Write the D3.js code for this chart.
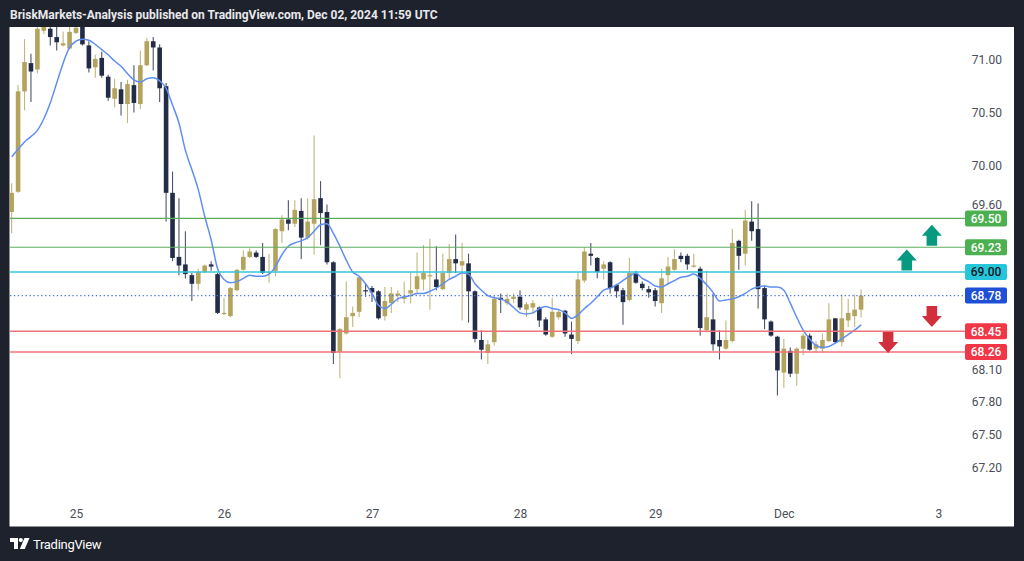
<!DOCTYPE html>
<html><head><meta charset="utf-8">
<script src="https://cdn.jsdelivr.net/npm/d3@7"></script>
<style>
html,body{margin:0;padding:0;background:#1e222d;}
svg{display:block;}
</style></head><body>
<svg id="chart" width="1024" height="561"></svg>
<script>
// ---- DATA (hourly candles, USOIL, Nov 25 – Dec 02 2024) ----
const opens = [69.56,69.75,70.70,70.97,70.91,71.28,71.30,71.22,71.14,71.11,71.26,71.33,71.14,70.93,71.02,70.84,70.63,70.72,70.58,70.76,
70.58,70.95,71.18,71.12,70.75,69.74,69.14,69.07,68.97,68.89,69.00,69.07,68.98,68.61,68.59,68.83,69.02,69.14,69.18,69.14,
68.99,69.01,69.38,69.49,69.45,69.57,69.32,69.45,69.69,69.56,69.09,68.26,68.43,68.59,68.63,68.83,68.85,68.82,68.59,68.71,
68.78,68.75,68.80,68.84,68.93,68.96,68.93,68.84,68.99,69.12,69.06,69.08,68.82,68.37,68.25,68.35,68.76,68.71,68.75,68.77,
68.65,68.67,68.67,68.56,68.40,68.58,68.64,68.42,68.36,68.92,69.17,69.13,69.03,69.09,68.88,68.83,68.74,68.98,68.89,68.84,
68.83,68.71,68.97,69.02,69.15,69.15,69.05,69.03,68.46,68.56,68.37,68.29,68.36,69.29,69.17,69.47,69.40,68.85,68.54,68.40,
68.07,68.27,68.06,68.29,68.41,68.29,68.29,68.36,68.57,68.35,68.55,68.59,68.65];
const highs = [69.83,70.76,71.20,71.06,71.35,71.38,71.36,71.33,71.27,71.33,71.36,71.38,71.18,71.05,71.08,70.86,70.82,70.79,70.81,70.95,
71.09,71.21,71.22,71.15,70.78,69.94,69.69,69.38,68.99,69.03,69.07,69.10,68.99,68.76,68.86,69.03,69.20,69.22,69.20,69.27,
69.17,69.41,69.53,69.67,69.67,69.69,69.69,70.28,69.85,69.63,69.10,68.48,68.91,68.68,68.96,68.89,68.87,68.83,68.86,68.86,
68.83,68.91,69.00,69.18,69.25,69.31,69.24,69.17,69.26,69.35,69.27,69.17,68.83,68.46,68.37,68.78,68.80,68.80,68.80,68.83,
68.72,68.74,68.68,68.58,68.76,68.65,68.65,68.54,69.00,69.23,69.27,69.14,69.10,69.10,68.89,68.85,69.13,69.01,68.91,68.87,
68.85,69.03,69.14,69.21,69.18,69.17,69.17,69.05,69.01,68.80,68.46,68.55,69.40,69.30,69.58,69.66,69.64,68.87,68.55,68.41,
68.38,68.30,68.30,68.43,68.43,68.36,68.43,68.71,68.57,68.79,68.75,68.79,68.84];
const lows = [69.36,69.74,70.52,70.60,70.87,71.25,71.14,71.09,71.13,71.10,71.25,71.14,70.88,70.83,70.83,70.61,70.55,70.47,70.40,70.50,
70.53,70.94,70.90,70.60,69.47,69.10,68.97,68.94,68.73,68.83,68.99,69.01,68.61,68.60,68.58,68.82,69.01,69.13,69.13,68.98,
68.90,68.96,69.27,69.39,69.42,69.12,69.30,69.16,69.25,69.07,68.15,68.02,68.42,68.49,68.58,68.77,68.72,68.56,68.55,68.62,
68.72,68.71,68.71,68.80,68.83,68.65,68.83,68.83,68.93,68.99,68.55,68.53,68.35,68.19,68.15,68.32,68.62,68.69,68.71,68.65,
68.58,68.61,68.49,68.41,68.39,68.56,68.40,68.24,68.33,68.90,69.06,68.94,68.93,68.80,68.76,68.51,68.73,68.89,68.83,68.76,
68.68,68.62,68.88,69.01,69.09,69.02,69.04,68.41,68.44,68.27,68.19,68.28,68.35,69.02,69.06,69.29,68.66,68.47,68.40,67.86,
67.93,68.03,67.95,68.23,68.27,68.25,68.25,68.35,68.34,68.31,68.49,68.49,68.58];
const closes = [69.74,70.70,70.98,70.89,71.30,71.32,71.22,71.17,71.16,71.27,71.31,71.15,70.92,71.01,70.85,70.64,70.73,70.58,70.77,70.59,
70.95,71.18,71.12,70.73,69.74,69.13,69.06,68.98,68.89,69.00,69.06,69.05,68.62,68.62,68.85,69.02,69.14,69.19,69.14,68.99,
69.00,69.40,69.49,69.45,69.58,69.32,69.47,69.68,69.55,69.09,68.25,68.47,68.58,68.62,68.95,68.82,68.81,68.57,68.73,68.80,
68.80,68.77,68.83,68.96,68.99,68.97,68.86,68.99,69.12,69.08,69.10,68.82,68.38,68.28,68.33,68.75,68.74,68.75,68.77,68.67,
68.70,68.71,68.55,68.42,68.63,68.63,68.43,68.38,68.93,69.19,69.15,69.00,69.07,68.85,68.82,68.72,68.99,68.90,68.85,68.81,
68.73,68.94,69.05,69.12,69.12,69.07,69.06,68.48,68.58,68.33,68.31,68.37,69.27,69.15,69.48,69.38,68.84,68.56,68.41,68.09,
68.29,68.06,68.29,68.41,68.28,68.33,68.37,68.56,68.35,68.57,68.62,68.65,68.78];
// moving average line as drawn on the chart
const maValues = [70.08,70.15,70.22,70.27,70.33,70.44,70.59,70.78,70.97,71.12,71.18,71.20,71.19,71.15,71.10,71.05,70.99,70.94,70.87,70.81,
70.79,70.82,70.83,70.80,70.73,70.57,70.40,70.14,69.96,69.77,69.52,69.30,69.03,68.93,68.90,68.91,68.94,68.97,68.96,68.96,
68.98,69.05,69.16,69.24,69.27,69.29,69.32,69.38,69.44,69.45,69.36,69.24,69.11,69.00,68.96,68.89,68.80,68.69,68.66,68.70,
68.75,68.77,68.78,68.80,68.80,68.82,68.85,68.89,68.93,68.96,68.99,68.98,68.89,68.83,68.78,68.76,68.75,68.72,68.67,68.62,
68.61,68.62,68.66,68.68,68.66,68.65,68.62,68.57,68.60,68.66,68.71,68.77,68.83,68.85,68.88,68.92,68.96,68.99,68.94,68.91,
68.87,68.86,68.89,68.92,68.95,68.96,68.98,68.94,68.88,68.81,68.73,68.74,68.75,68.77,68.80,68.84,68.86,68.87,68.86,68.86,
68.83,68.71,68.58,68.46,68.38,68.32,68.30,68.31,68.34,68.38,68.42,68.46,68.51];
const timeTickIndex = [10, 33, 56, 79, 100, 120, 144];
const timeTickLabels = ["25", "26", "27", "28", "29", "Dec", "3"];
const priceTicks = [71.00, 70.50, 70.00, 69.60, 68.10, 67.80, 67.50, 67.20];
const levelValues = [69.50, 69.23, 69.00, 68.45, 68.26];
const levelKinds = ["resistance", "resistance", "pivot", "support", "support"];
const lastPrice = 68.78;
const arrowIndex = [143, 139.1, 143, 136.2];
const arrowTip = [69.44, 69.21, 68.49, 68.25];
const arrowDir = ["up", "up", "down", "down"];
const titleText = "BriskMarkets-Analysis published on TradingView.com, Dec 02, 2024 11:59 UTC";

// ---- DRAWING ----
const W = 1024, H = 561;
const svg = d3.select("#chart");
const plot = {left: 10, right: 965, top: 27, bottom: 526};

svg.append("rect").attr("width", W).attr("height", H).attr("fill", "#1e222d");
svg.append("rect").attr("x", 9.5).attr("y", 27).attr("width", 1004.5).attr("height", 499.5).attr("fill", "#ffffff");

const x = d3.scaleLinear().domain([0, 132]).range([11.65, 861.07]);
const y = d3.scaleLog().domain([67.2, 71]).range([468, 60]);

svg.append("clipPath").attr("id", "clip").append("rect")
  .attr("x", plot.left).attr("y", plot.top)
  .attr("width", plot.right - plot.left).attr("height", plot.bottom - plot.top);

const g = svg.append("g").attr("clip-path", "url(#clip)");

const candles = d3.range(opens.length).map(i => ({i, o: opens[i], h: highs[i], l: lows[i], c: closes[i]}));
const upCol = "#b3a35c", downCol = "#232c46";
const upWick = "#c2b67c", downWick = "#4c556c";
const bodyW = 4.6;

g.selectAll("line.wick").data(candles).join("line")
  .attr("class", "wick")
  .attr("x1", d => x(d.i)).attr("x2", d => x(d.i))
  .attr("y1", d => y(d.h)).attr("y2", d => y(d.l))
  .attr("stroke", d => d.c >= d.o ? upWick : downWick)
  .attr("stroke-width", 1.1);

g.selectAll("rect.body").data(candles).join("rect")
  .attr("class", "body")
  .attr("x", d => x(d.i) - bodyW / 2)
  .attr("width", bodyW)
  .attr("y", d => y(Math.max(d.o, d.c)))
  .attr("height", d => Math.max(1.2, Math.abs(y(d.o) - y(d.c))))
  .attr("fill", d => d.c >= d.o ? upCol : downCol);

// moving average
g.append("path").datum(maValues)
  .attr("d", d3.line().x((d, i) => x(i)).y(d => y(d)).curve(d3.curveMonotoneX))
  .attr("fill", "none").attr("stroke", "#5f8ff2").attr("stroke-width", 1.5);

// horizontal levels
const levelColor = {resistance: "#5cae5f", pivot: "#35c6dc", support: "#f0737b"};
const boxColor = {resistance: "#4caf50", pivot: "#26c6da", support: "#f23645"};
const boxText = {resistance: "#ffffff", pivot: "#131722", support: "#ffffff"};
const levels = levelValues.map((v, k) => ({v, kind: levelKinds[k]}));

g.selectAll("line.level").data(levels).join("line")
  .attr("class", "level")
  .attr("x1", plot.left).attr("x2", plot.right)
  .attr("y1", d => y(d.v)).attr("y2", d => y(d.v))
  .attr("stroke", d => levelColor[d.kind])
  .attr("stroke-width", d => d.kind === "resistance" ? 1.2 : 1.5);

// last price dotted line
g.append("line")
  .attr("x1", plot.left).attr("x2", plot.right)
  .attr("y1", y(lastPrice)).attr("y2", y(lastPrice))
  .attr("stroke", "#4a72e0").attr("stroke-width", 1.3)
  .attr("stroke-dasharray", "1.3,2.6");

// arrows
const arrows = arrowIndex.map((a, k) => ({a, p: arrowTip[k], dir: arrowDir[k]}));
svg.selectAll("path.arrow").data(arrows).join("path")
  .attr("class", "arrow")
  .attr("d", d => {
    const cx = x(d.a), ty = y(d.p), s = d.dir === "up" ? 1 : -1;
    return `M${cx},${ty} L${cx + 10},${ty + s * 11} L${cx + 5.3},${ty + s * 11} L${cx + 5.3},${ty + s * 21}` +
           ` L${cx - 5.3},${ty + s * 21} L${cx - 5.3},${ty + s * 11} L${cx - 10},${ty + s * 11} Z`;
  })
  .attr("fill", d => d.dir === "up" ? "#089981" : "#d12f3b");

// price axis
const yAxis = svg.append("g").attr("transform", "translate(1002,0)")
  .call(d3.axisLeft(y).tickValues(priceTicks).tickFormat(d3.format(".2f")).tickSize(0).tickPadding(0));
yAxis.select(".domain").remove();
yAxis.selectAll("text").attr("fill", "#4a4e59").style("font-family", "Roboto, sans-serif").style("font-size", "12px");
// the 69.60 label sits just above the 69.50 tag, as in the original
yAxis.selectAll("text").filter(d => d === 69.60).attr("dy", "0.1em");

// time axis
const xAxis = svg.append("g").attr("transform", "translate(0,509)")
  .call(d3.axisBottom(x).tickValues(timeTickIndex).tickFormat((d, k) => timeTickLabels[k]).tickSize(0).tickPadding(0));
xAxis.select(".domain").remove();
xAxis.selectAll("text").attr("fill", "#4a4e59").style("font-family", "Roboto, sans-serif").style("font-size", "12px");

// price label boxes
const boxes = levels.map(d => ({v: d.v, fill: boxColor[d.kind], txt: boxText[d.kind]}))
  .concat([{v: lastPrice, fill: "#1f4fd6", txt: "#ffffff"}]);
const bg = svg.selectAll("g.pbox").data(boxes).join("g").attr("class", "pbox")
  .attr("transform", d => `translate(965,${y(d.v)})`);
bg.append("rect").attr("x", 0).attr("y", -8).attr("width", 42).attr("height", 16).attr("rx", 2)
  .attr("fill", d => d.fill);
bg.append("text").attr("x", 21).attr("y", 0).attr("dy", "0.36em").attr("text-anchor", "middle")
  .attr("fill", d => d.txt).style("font-family", "Roboto, sans-serif").style("font-size", "12px")
  .style("font-weight", "500").text(d => d3.format(".2f")(d.v));

// header
svg.append("text").attr("x", 10).attr("y", 18.5).attr("fill", "#e8e9ec")
  .style("font-family", "Roboto, sans-serif").style("font-size", "12px").style("font-weight", "700")
  .text(titleText);

// footer logo
const logo = svg.append("g").attr("transform", "translate(10,538)").attr("fill", "#ffffff");
logo.append("path").attr("d", "M0,0 H8 V11 H4 V4 H0 Z");
logo.append("circle").attr("cx", 10.8).attr("cy", 2.1).attr("r", 2.1);
logo.append("path").attr("d", "M14.5,0 H19.5 L14.8,11 H9.8 Z");
svg.append("text").attr("x", 33).attr("y", 549).attr("fill", "#ffffff")
  .style("font-family", "Roboto, sans-serif").style("font-size", "13px").style("letter-spacing", "-0.3px")
  .text("TradingView");
</script>
</body></html>
